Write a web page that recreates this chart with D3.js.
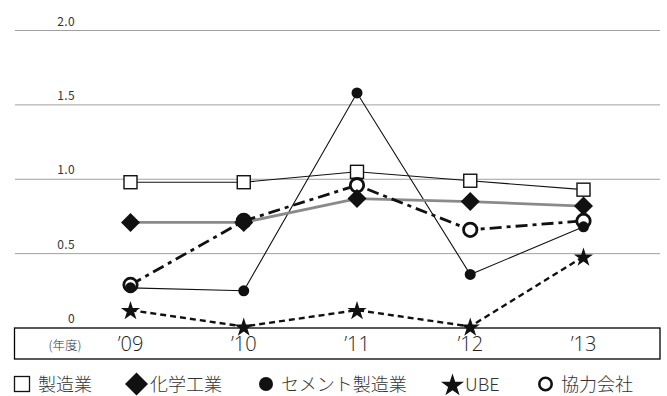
<!DOCTYPE html>
<html>
<head>
<meta charset="utf-8">
<script src="https://cdn.jsdelivr.net/npm/d3@7/dist/d3.min.js"></script>
<style>
  html, body { margin: 0; padding: 0; background: #fff; }
  svg { display: block; font-family: "Noto Sans CJK JP", "Open Sans", sans-serif; }
</style>
</head>
<body>
<svg id="chart" width="667" height="396"></svg>
<script>
// Fiscal years and series values
const years = ["’09", "’10", "’11", "’12", "’13"];
const yTicks = [0, 0.5, 1.0, 1.5, 2.0];
const seizogyo = [0.98, 0.98, 1.05, 0.99, 0.93];      // 製造業
const kagaku   = [0.71, 0.71, 0.87, 0.85, 0.82];      // 化学工業
const cement   = [0.27, 0.25, 1.58, 0.36, 0.68];      // セメント製造業
const ube      = [0.12, 0.01, 0.12, 0.01, 0.48];      // UBE
const kyoryoku = [0.29, 0.72, 0.96, 0.66, 0.72];      // 協力会社

const svg = d3.select("#chart");

const x = d3.scalePoint().domain(years).range([130.5, 583.5]);
const y = d3.scaleLinear().domain([0, 2]).range([328, 30.5]);

const gridLeft = 15, gridRight = 660;

// Horizontal grid lines with labels sitting above them
const grid = svg.append("g");
yTicks.filter(t => t > 0).forEach(t => {
  grid.append("line")
    .attr("x1", gridLeft).attr("x2", gridRight)
    .attr("y1", y(t)).attr("y2", y(t))
    .attr("stroke", "#a0a0a0").attr("stroke-width", 1);
});
yTicks.forEach(t => {
  grid.append("text")
    .attr("x", 75).attr("y", y(t) - 5)
    .attr("text-anchor", "end")
    .attr("font-size", 12).attr("letter-spacing", 0.4).attr("fill", "#333")
    .text(t === 0 ? "0" : d3.format(".1f")(t));
});

// Year box along the bottom
svg.append("rect")
  .attr("x", 14.5).attr("y", y(0)).attr("width", 645.5).attr("height", 31)
  .attr("fill", "#fff").attr("stroke", "#000").attr("stroke-width", 1.3);
svg.append("text")
  .attr("x", 65).attr("y", y(0) + 22)
  .attr("text-anchor", "middle").attr("font-size", 12.5).attr("fill", "#333")
  .attr("font-weight", 300)
  .text("(年度)");
svg.selectAll("text.year").data(years).enter().append("text")
  .attr("class", "year")
  .attr("x", d => x(d)).attr("y", y(0) + 22.5)
  .attr("text-anchor", "middle").attr("font-size", 20).attr("fill", "#222")
  .attr("font-family", "'Open Sans', sans-serif").attr("font-weight", 300)
  .text(d => d);

// Lines
const line = d3.line().x((d, i) => x(years[i])).y(d => y(d));
const lines = svg.append("g").attr("fill", "none");
lines.append("path").datum(seizogyo).attr("d", line)
  .attr("stroke", "#111").attr("stroke-width", 1.1);
lines.append("path").datum(cement).attr("d", line)
  .attr("stroke", "#111").attr("stroke-width", 1.1);
lines.append("path").datum(kagaku).attr("d", line)
  .attr("stroke", "#8a8a8a").attr("stroke-width", 2.8);
lines.append("path").datum(ube).attr("d", line)
  .attr("stroke", "#111").attr("stroke-width", 2.4).attr("stroke-dasharray", "6,4");
lines.append("path").datum(kyoryoku).attr("d", line)
  .attr("stroke", "#111").attr("stroke-width", 2.8).attr("stroke-dasharray", "12,5,4,5");

// Marker shapes
const diamondPath = r => `M0,${-r}L${r},0L0,${r}L${-r},0Z`;
const starPath = size => d3.symbol().type(d3.symbolStar).size(size)();

function drawSquares(g, data) {
  g.selectAll(null).data(data).enter().append("rect")
    .attr("x", (d, i) => x(years[i]) - 6.5).attr("y", d => y(d) - 6.5)
    .attr("width", 13).attr("height", 13)
    .attr("fill", "#fff").attr("stroke", "#111").attr("stroke-width", 1.4);
}
function drawOpenCircles(g, data) {
  g.selectAll(null).data(data).enter().append("circle")
    .attr("cx", (d, i) => x(years[i])).attr("cy", d => y(d)).attr("r", 6.7)
    .attr("fill", "#fff").attr("stroke", "#111").attr("stroke-width", 2.8);
}
function drawDiamonds(g, data) {
  g.selectAll(null).data(data).enter().append("path")
    .attr("transform", (d, i) => `translate(${x(years[i])},${y(d)})`)
    .attr("d", diamondPath(9.5)).attr("fill", "#111");
}
function drawDots(g, data) {
  g.selectAll(null).data(data).enter().append("circle")
    .attr("cx", (d, i) => x(years[i])).attr("cy", d => y(d)).attr("r", 5.5)
    .attr("fill", "#111");
}
function drawStars(g, data) {
  g.selectAll(null).data(data).enter().append("path")
    .attr("transform", (d, i) => `translate(${x(years[i])},${y(d) + 1})`)
    .attr("d", starPath(115)).attr("fill", "#111");
}

const marks = svg.append("g");
drawSquares(marks.append("g"), seizogyo);
drawOpenCircles(marks.append("g"), kyoryoku);
drawDiamonds(marks.append("g"), kagaku);
drawDots(marks.append("g"), cement);
drawStars(marks.append("g"), ube);

// Legend
const legend = svg.append("g").attr("font-size", 18).attr("fill", "#333").attr("font-weight", 300);
const ly = 384;
const ty = ly + 7;
legend.append("rect").attr("x", 14.5).attr("y", ly - 7.5).attr("width", 15).attr("height", 15)
  .attr("fill", "#fff").attr("stroke", "#111").attr("stroke-width", 1.3);
legend.append("text").attr("x", 38).attr("y", ty).text("製造業");
legend.append("path").attr("transform", `translate(136.5,${ly})`).attr("d", diamondPath(11.5)).attr("fill", "#111");
legend.append("text").attr("x", 150).attr("y", ty).text("化学工業");
legend.append("circle").attr("cx", 266).attr("cy", ly).attr("r", 7).attr("fill", "#111");
legend.append("text").attr("x", 281).attr("y", ty).text("セメント製造業");
legend.append("path").attr("transform", `translate(452.5,${ly + 1.5})`)
  .attr("d", starPath(165)).attr("fill", "#111");
legend.append("text").attr("x", 465).attr("y", ty).text("UBE");
legend.append("circle").attr("cx", 545.5).attr("cy", ly).attr("r", 6.2)
  .attr("fill", "#fff").attr("stroke", "#111").attr("stroke-width", 2.6);
legend.append("text").attr("x", 561).attr("y", ty).text("協力会社");
</script>
</body>
</html>
